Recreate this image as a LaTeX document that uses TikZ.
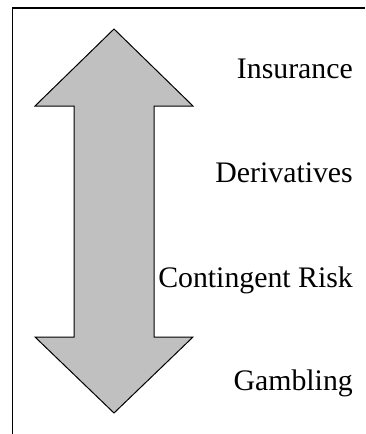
\documentclass[tikz,border=0pt]{standalone}
\usepackage{fontspec}
\setmainfont{Liberation Serif}
\definecolor{arrowgray}{HTML}{C0C0C0}
\begin{document}
\begin{tikzpicture}[x=1pt,y=-1pt,
  lbl/.style={anchor=base east,inner sep=0pt,font=\fontsize{29.8}{34}\selectfont},
  frameline/.style={line width=1.5pt},
  bigarrow/.style={draw=black,fill=arrowgray,line width=1pt,line join=miter}]
\useasboundingbox (0,0) rectangle (365,434);
% frame (only left and top edges visible)
\draw[frameline] (12.7,434) -- (12.7,8) -- (365,8);
% double-headed block arrow
\draw[bigarrow] (114,29) -- (193,106) -- (154,106) -- (154,337) -- (193,337)
  -- (114,413) -- (35,337) -- (74,337) -- (74,106) -- (35,106) -- cycle;
% labels
\node[lbl] (ins) at (353,78.3) {Insurance};
\node[lbl] (der) at (353,182.7) {Derivatives};
\node[lbl] (con) at (353,287.3) {Contingent Risk};
\node[lbl] (gam) at (353,390) {Gambling};
\end{tikzpicture}
\end{document}
